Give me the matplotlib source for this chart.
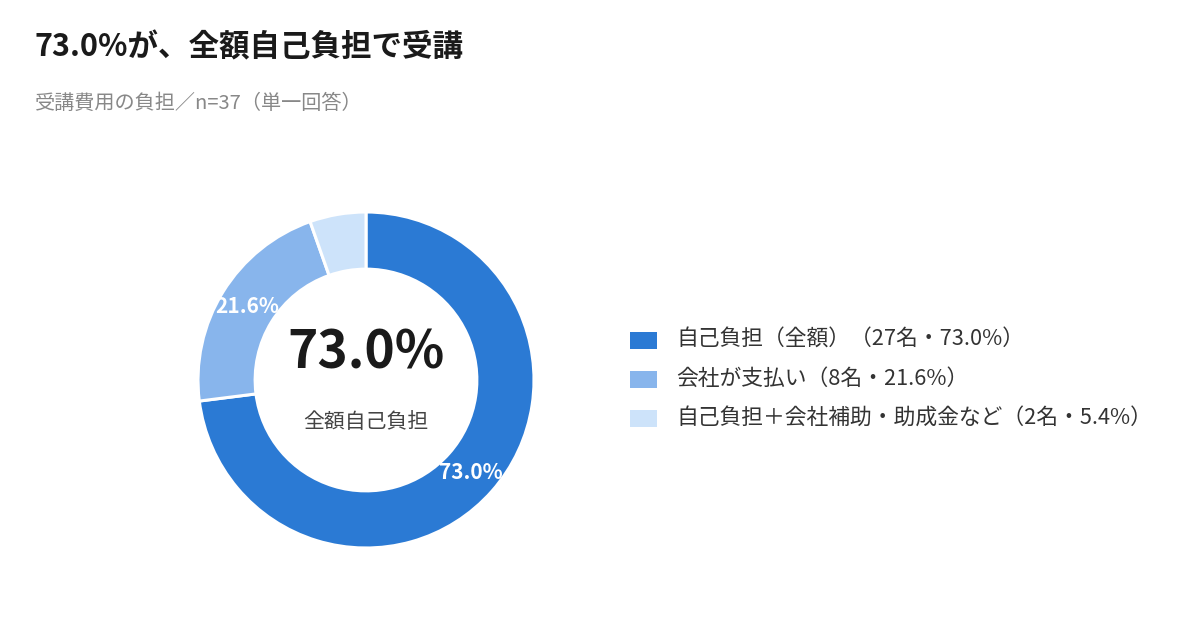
import matplotlib
matplotlib.use("Agg")
import matplotlib.pyplot as plt
from matplotlib.patches import Rectangle
import numpy as np

plt.rcParams['font.family'] = ['Noto Sans CJK JP', 'DejaVu Sans']

# data
labels = ['自己負担（全額）', '会社が支払い', '自己負担＋会社補助・助成金など']
counts = [27, 8, 2]
pcts = [73.0, 21.6, 5.4]
colors = ['#2B7AD4', '#88B5EC', '#CDE3FA']

title = '73.0%が、全額自己負担で受講'
subtitle = '受講費用の負担／n=37（単一回答）'
center_big = '73.0%'
center_small = '全額自己負担'

W, H = 1200, 626
fig = plt.figure(figsize=(W / 100, H / 100), dpi=100)
fig.patch.set_facecolor('white')

# donut axes: center (366, 380) px, radius 168 px
R = 168
cx, cy = 366, H - 380
lim = 1.02
side = 2 * lim * R
ax = fig.add_axes([(cx - side / 2) / W, (cy - side / 2) / H, side / W, side / H])

wedges, _ = ax.pie(pcts, colors=colors, startangle=90, counterclock=False,
                   radius=1.0, wedgeprops=dict(width=0.34, edgecolor='white', linewidth=2.2))
ax.set_xlim(-lim, lim)
ax.set_ylim(-lim, lim)
ax.set_aspect('equal')
ax.axis('off')

# percent labels on the ring (skip the smallest slice)
start = 90.0
for p, w in zip(pcts, wedges):
    mid = start - p / 100 * 360 / 2
    start -= p / 100 * 360
    if p < 10:
        continue
    r = 0.83
    ax.text(r * np.cos(np.radians(mid)), r * np.sin(np.radians(mid)), f'{p:.1f}%',
            ha='center', va='center', color='white', fontsize=15, fontweight='bold')

ax.text(0, 0.16, center_big, ha='center', va='center', fontsize=37, fontweight='bold', color='#1a1a1a')
ax.text(0, -0.25, center_small, ha='center', va='center', fontsize=15, color='#444444')

# title / subtitle
fig.text(35 / W, 1 - 47 / H, title, ha='left', va='center', fontsize=22, fontweight='bold', color='#1a1a1a')
fig.text(35 / W, 1 - 103 / H, subtitle, ha='left', va='center', fontsize=14.5, color='#888888')

# legend
row_y = [340, 379, 418]
for lab, n, p, c, y in zip(labels, counts, pcts, colors, row_y):
    fig.add_artist(Rectangle((630 / W, 1 - (y + 8.5) / H), 27 / W, 17 / H,
                             transform=fig.transFigure, facecolor=c, edgecolor='none'))
    fig.text(676 / W, 1 - y / H, f'{lab}（{n}名・{p:.1f}%）', ha='left', va='center',
             fontsize=15.7, color='#333333')

fig.savefig('out.png', dpi=100, facecolor='white')
